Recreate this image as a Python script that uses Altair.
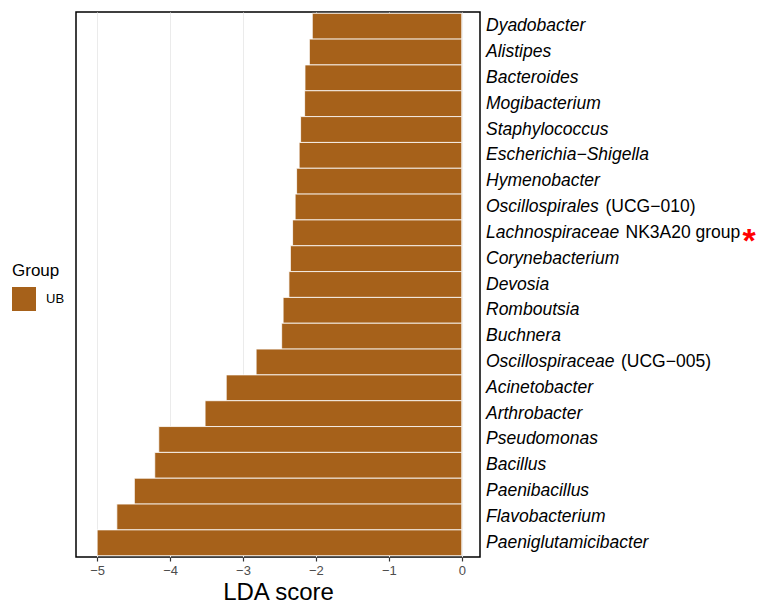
import altair as alt
import pandas as pd

# LDA effect sizes of taxa enriched in group UB (top to bottom)
genus = [
    "Dyadobacter", "Alistipes", "Bacteroides", "Mogibacterium", "Staphylococcus",
    "Escherichia\u2212Shigella", "Hymenobacter", "Oscillospirales", "Lachnospiraceae",
    "Corynebacterium", "Devosia", "Romboutsia", "Buchnera", "Oscillospiraceae",
    "Acinetobacter", "Arthrobacter", "Pseudomonas", "Bacillus", "Paenibacillus",
    "Flavobacterium", "Paeniglutamicibacter",
]
suffix = [
    "", "", "", "", "", "", "", "(UCG\u2212010)", "NK3A20 group", "", "", "", "",
    "(UCG\u2212005)", "", "", "", "", "", "", "",
]
flag = ["", "", "", "", "", "", "", "", "*", "", "", "", "", "", "", "", "", "", "", "", ""]
lda = [
    -2.05, -2.09, -2.15, -2.155, -2.21, -2.23, -2.265, -2.285, -2.32, -2.35, -2.37,
    -2.45, -2.47, -2.82, -3.23, -3.52, -4.155, -4.21, -4.49, -4.73, -5.00,
]
group = ["UB"] * len(genus)

df = pd.DataFrame({"taxon": genus, "suffix": suffix, "flag": flag,
                   "LDA": lda, "Group": group})

W, H = 404, 545
FONT = "Liberation Sans"
BROWN = "#A6611A"

# pixel offsets of the upright part of each mixed-style label
suffix_dx = {"Oscillospirales": 119.5, "Lachnospiraceae": 139.5, "Oscillospiraceae": 135}
flag_dx = {"Lachnospiraceae": 256.5}

y_enc = alt.Y(
    "taxon:N", sort=genus, title=None,
    scale=alt.Scale(paddingInner=0, paddingOuter=0.05),
    axis=alt.Axis(orient="right", labels=False, ticks=True, tickSize=4,
                  tickColor="#333333", tickWidth=1.2, domain=False, grid=False),
)

bars = alt.Chart(df).mark_bar(stroke="white", strokeWidth=0.8).encode(
    x=alt.X("LDA:Q", title="LDA score",
            scale=alt.Scale(domain=[-5.29, 0.25], nice=False, zero=False),
            axis=alt.Axis(values=[-5, -4, -3, -2, -1, 0], format="d",
                          tickSize=4, tickColor="#333333", tickWidth=1.2,
                          domain=False, grid=True, gridColor="#ebebeb", gridWidth=1,
                          labelFont=FONT, labelFontSize=13, labelColor="#4d4d4d",
                          labelPadding=3, titleFont=FONT, titleFontSize=24,
                          titleFontWeight="normal", titleColor="black",
                          titlePadding=3)),
    x2=alt.datum(0),
    y=y_enc,
    color=alt.Color("Group:N", scale=alt.Scale(domain=["UB"], range=[BROWN]),
                    legend=alt.Legend(orient="none", legendX=-64, legendY=251,
                                      title="Group", titleFont=FONT,
                                      titleFontSize=17, titleFontWeight="normal",
                                      titleColor="black", titlePadding=7,
                                      labelFont=FONT, labelFontSize=13,
                                      labelColor="black", labelOffset=10,
                                      symbolType="square", symbolSize=576,
                                      symbolStrokeWidth=0, padding=0)),
)

y_text = alt.Y("taxon:N", sort=genus, title=None,
               scale=alt.Scale(paddingInner=0, paddingOuter=0.05), axis=None)

names = alt.Chart(df).mark_text(
    align="left", baseline="middle", font=FONT, fontStyle="italic",
    fontSize=17.5, color="black",
).encode(x=alt.value(W + 6), y=y_text, text="taxon:N")

layers = [bars, names]
for t, dx in suffix_dx.items():
    layers.append(
        alt.Chart(df).transform_filter(alt.datum.taxon == t).mark_text(
            align="left", baseline="middle", font=FONT, fontSize=17.5,
            color="black", dx=dx,
        ).encode(x=alt.value(W + 6), y=y_text, text="suffix:N")
    )
for t, dx in flag_dx.items():
    layers.append(
        alt.Chart(df).transform_filter(alt.datum.taxon == t).mark_text(
            align="left", baseline="alphabetic", font=FONT, fontSize=34,
            fontWeight="bold", color="#ff0000", dx=dx, dy=19,
        ).encode(x=alt.value(W + 6), y=y_text, text="flag:N")
    )

chart = alt.layer(*layers).properties(
    width=W, height=H,
    autosize=alt.AutoSizeParams(type="none"),
    padding={"left": 76, "top": 12, "right": 278, "bottom": 47},
    view=alt.ViewBackground(stroke="black", strokeWidth=1.5, fill="white"),
).configure(background="white")

chart.save("out.html", embed_options={"renderer": "svg", "actions": False})
